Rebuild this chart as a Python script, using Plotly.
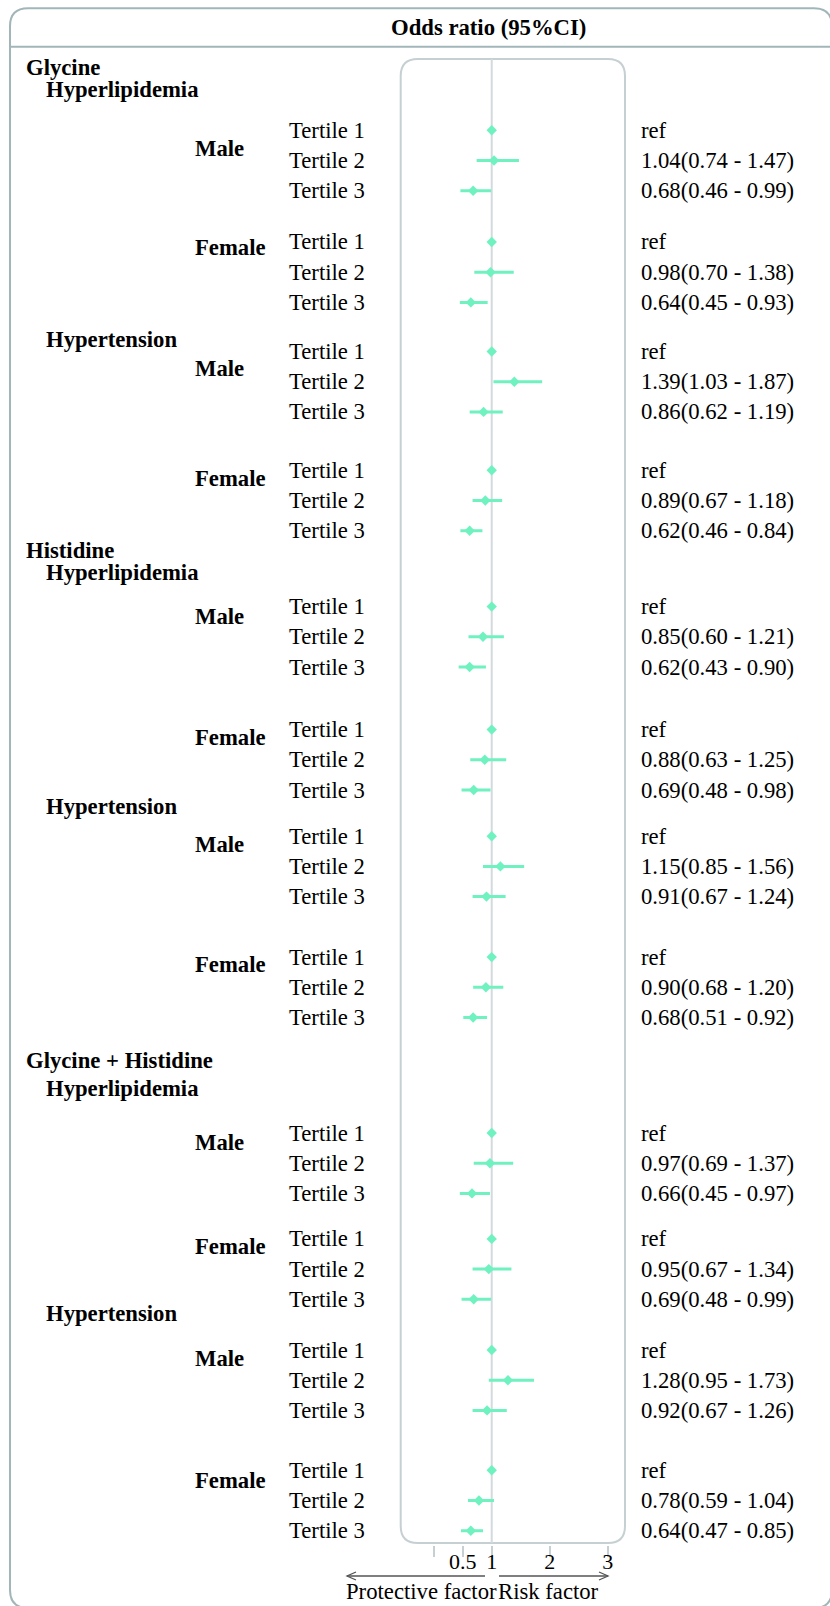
import plotly.graph_objects as go

W, H = 830, 1606

# ---------------- data ----------------
sections = ["Glycine", "Histidine", "Glycine + Histidine"]
outcomes = ["Hyperlipidemia", "Hypertension"]
sexes = ["Male", "Female"]
tertiles = ["Tertile 1", "Tertile 2", "Tertile 3"]

# order: section > outcome > sex > tertile ; None = reference group
or_est = [None, 1.04, 0.68, None, 0.98, 0.64, None, 1.39, 0.86, None, 0.89, 0.62,
          None, 0.85, 0.62, None, 0.88, 0.69, None, 1.15, 0.91, None, 0.90, 0.68,
          None, 0.97, 0.66, None, 0.95, 0.69, None, 1.28, 0.92, None, 0.78, 0.64]
ci_low = [None, 0.74, 0.46, None, 0.70, 0.45, None, 1.03, 0.62, None, 0.67, 0.46,
          None, 0.60, 0.43, None, 0.63, 0.48, None, 0.85, 0.67, None, 0.68, 0.51,
          None, 0.69, 0.45, None, 0.67, 0.48, None, 0.95, 0.67, None, 0.59, 0.47]
ci_high = [None, 1.47, 0.99, None, 1.38, 0.93, None, 1.87, 1.19, None, 1.18, 0.84,
           None, 1.21, 0.90, None, 1.25, 0.98, None, 1.56, 1.24, None, 1.20, 0.92,
           None, 1.37, 0.97, None, 1.34, 0.99, None, 1.73, 1.26, None, 1.04, 0.85]

x_ticks = [0, 0.5, 1, 2, 3]
x_tick_text = ["", "0.5", "1", "2", "3"]

# ---------------- layout (pixel rows) ----------------
block_top = [130.3, 242, 351.5, 470.3, 606.6, 729.6, 836.2, 957.1, 1133, 1238.9, 1350, 1470.3]
row_step = 30.2
sex_label_y = [148, 248, 368, 478.5, 616, 737, 844, 965, 1142, 1246, 1358, 1480]
section_label_y = [68, 550, 1060]
outcome_label_y = [89, 340, 572.5, 806.5, 1088, 1313.7]

FONT = "Liberation Serif"
FS = 22.7
MINT = "#6ff2c0"
FRAME = "#a2b6ba"
BOX = "#c6d0d3"

fig = go.Figure()

def px(x):
    return x / W

def py(y):
    return 1 - y / H

row_y = []
for b in range(12):
    for t in range(3):
        row_y.append(block_top[b] + t * row_step)

# forest marks
ref_y = [row_y[i] for i, v in enumerate(or_est) if v is None]
est_idx = [i for i, v in enumerate(or_est) if v is not None]
fig.add_trace(go.Scatter(
    x=[or_est[i] for i in est_idx], y=[row_y[i] for i in est_idx], mode="markers",
    marker=dict(symbol="diamond", size=8, color=MINT),
    error_x=dict(type="data", symmetric=False,
                 array=[ci_high[i] - or_est[i] for i in est_idx],
                 arrayminus=[or_est[i] - ci_low[i] for i in est_idx],
                 color=MINT, thickness=3, width=0),
    hoverinfo="skip", showlegend=False))
fig.add_trace(go.Scatter(
    x=[1.0] * len(ref_y), y=ref_y, mode="markers",
    marker=dict(symbol="diamond", size=8, color=MINT),
    hoverinfo="skip", showlegend=False))

box_l, box_r, box_t, box_b = 400.7, 625.0, 59.0, 1543.0
xmin = -0.569
xmax = 3.298

fig.update_layout(
    width=W, height=H, margin=dict(l=0, r=0, t=0, b=0),
    paper_bgcolor="white", plot_bgcolor="rgba(0,0,0,0)",
    xaxis=dict(domain=[px(box_l), px(box_r)], range=[xmin, xmax], anchor="free",
               position=py(1545), showgrid=False, zeroline=False, showline=False,
               ticks="outside", ticklen=11, tickwidth=1.5, tickcolor=BOX,
               tickvals=x_ticks, ticktext=x_tick_text, ticklabelstandoff=-14,
               tickfont=dict(family=FONT, size=22, color="black"), fixedrange=True),
    yaxis=dict(domain=[0, 1], range=[H, 0], visible=False, fixedrange=True),
)

shapes = []

def rrect(l, t, r, b, rad):
    return (f"M {px(l)},{py(t+rad)} Q {px(l)},{py(t)} {px(l+rad)},{py(t)} "
            f"L {px(r-rad)},{py(t)} Q {px(r)},{py(t)} {px(r)},{py(t+rad)} "
            f"L {px(r)},{py(b-rad)} Q {px(r)},{py(b)} {px(r-rad)},{py(b)} "
            f"L {px(l+rad)},{py(b)} Q {px(l)},{py(b)} {px(l)},{py(b-rad)} Z")

# outer frame
shapes.append(dict(type="path", xref="paper", yref="paper", path=rrect(10, 8.3, 832, 1608, 18),
                   line=dict(color=FRAME, width=2), layer="below"))
# header separator
shapes.append(dict(type="line", xref="paper", yref="paper", x0=px(10), x1=px(832),
                   y0=py(46.7), y1=py(46.7), line=dict(color=FRAME, width=2)))
# forest box
shapes.append(dict(type="path", xref="paper", yref="paper", path=rrect(box_l, box_t, box_r, box_b, 17),
                   line=dict(color=BOX, width=2), layer="below"))
# reference line
shapes.append(dict(type="line", xref="x", yref="y", x0=1, x1=1, y0=box_t, y1=box_b,
                   line=dict(color="#d2dadc", width=2), layer="below"))
# arrows
AR = "#555555"
shapes.append(dict(type="line", xref="paper", yref="paper", x0=px(485), x1=px(347),
                   y0=py(1576), y1=py(1576), line=dict(color=AR, width=1.3)))
shapes.append(dict(type="path", xref="paper", yref="paper",
                   path=f"M {px(356)},{py(1572)} L {px(347)},{py(1576)} L {px(356)},{py(1580)}",
                   line=dict(color=AR, width=1.3)))
shapes.append(dict(type="line", xref="paper", yref="paper", x0=px(499), x1=px(608),
                   y0=py(1576), y1=py(1576), line=dict(color=AR, width=1.3)))
shapes.append(dict(type="path", xref="paper", yref="paper",
                   path=f"M {px(599)},{py(1572)} L {px(608)},{py(1576)} L {px(599)},{py(1580)}",
                   line=dict(color=AR, width=1.3)))
fig.update_layout(shapes=shapes)

ann = []

def text(x, y, s, bold=False, anchor="left", size=FS):
    ann.append(dict(xref="paper", yref="paper", x=px(x), y=py(y), text=s, showarrow=False,
                    xanchor=anchor, yanchor="middle", borderpad=0,
                    font=dict(family=FONT, size=size, color="black",
                              weight="bold" if bold else "normal")))

text(488.8, 28, "Odds ratio (95%CI)", bold=True, anchor="center")

for s, name in enumerate(sections):
    text(25, section_label_y[s], name, bold=True)
k = 0
for s in range(len(sections)):
    for o, oname in enumerate(outcomes):
        text(45, outcome_label_y[s * 2 + o], oname, bold=True)
        for g, gname in enumerate(sexes):
            b = (s * 2 + o) * 2 + g
            text(193.5, sex_label_y[b], gname, bold=True)
            for t, tname in enumerate(tertiles):
                text(288.3, row_y[k], tname)
                if or_est[k] is None:
                    lab = "ref"
                else:
                    lab = f"{or_est[k]:.2f}({ci_low[k]:.2f} - {ci_high[k]:.2f})"
                text(639.5, row_y[k], lab)
                k += 1

text(498, 1591, "Protective factor", anchor="right")
text(497, 1591, "Risk factor", anchor="left")
fig.update_layout(annotations=ann)

fig.write_html("out.html", config={"displayModeBar": False},
               post_script="document.body.style.margin='0';")
